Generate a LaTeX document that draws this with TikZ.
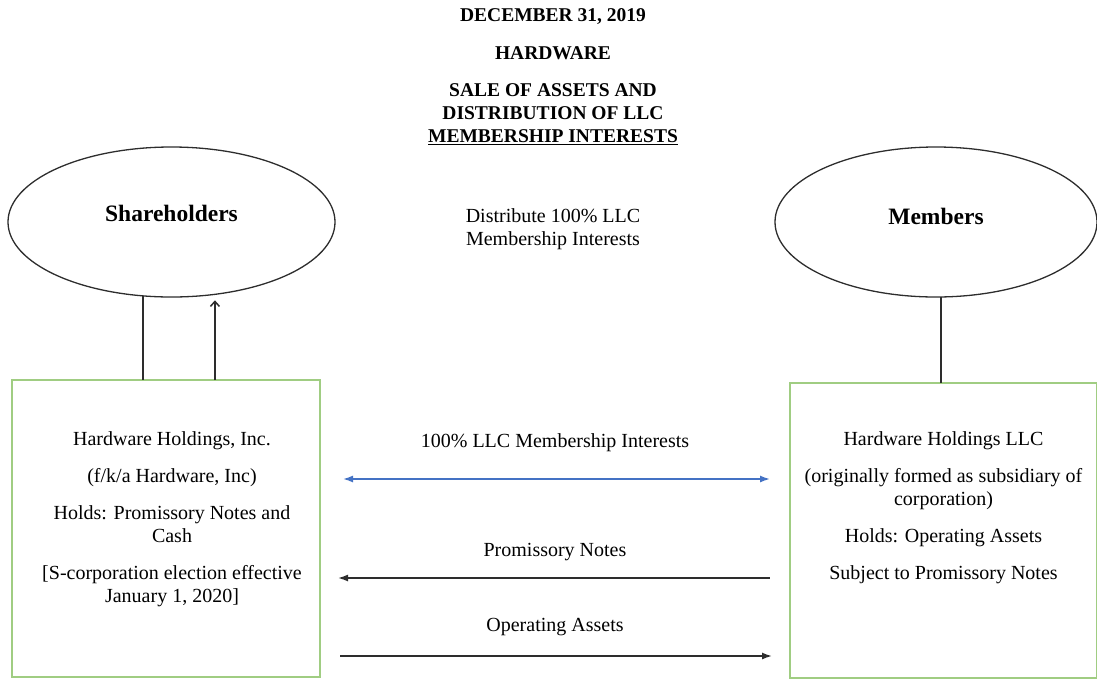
\documentclass[tikz,border=0pt]{standalone}
\usepackage{fontspec}
\setmainfont{Liberation Serif}
\usetikzlibrary{positioning,shapes.geometric,arrows.meta}
\definecolor{boxgreen}{RGB}{160,205,130}
\definecolor{linkblue}{RGB}{68,114,196}
\definecolor{inkgray}{RGB}{45,45,45}

\begin{document}
\begin{tikzpicture}
[
x=1pt, y=-1pt,
every node/.style={font=\fontsize{20}{23}\selectfont, inner sep=0, outer sep=0},
titletext/.style={font=\fontsize{19.5}{23}\selectfont\bfseries, align=center},
partynode/.style={ellipse, draw=inkgray, line width=1.3pt, minimum width=327pt, minimum height=150pt},
partyname/.style={font=\fontsize{23.5}{26}\selectfont\bfseries},
firmnode/.style={rectangle, draw=boxgreen, line width=1.4pt, minimum width=308pt, minimum height=297pt},
firmtext/.style={align=center},
link/.style={draw=inkgray, line width=1.5pt},
>={Latex[length=10pt,width=7pt]},
node distance=1cm
]
\useasboundingbox (0,0) rectangle (1097,681);

\node[titletext] (date) at (553,17)  {DECEMBER 31, 2019};
\node[titletext] (co)   at (553,53)  {HARDWARE};
\node[titletext] (deal) at (553,114) {SALE OF ASSETS AND\\DISTRIBUTION OF LLC\\\underline{MEMBERSHIP INTERESTS}};
\node[align=center] (dist) at (553,229) {Distribute 100\% LLC\\Membership Interests};

\node[partynode, label={[partyname, yshift=9pt]center:Shareholders}] (share) at (171.5,222) {};
\node[partynode, minimum width=322pt, label={[partyname, yshift=6pt]center:Members}] (memb) at (936,222) {};

\node[firmnode] (inc) at (166,528.5) {};
\node[firmnode, minimum width=307pt, minimum height=295pt] (llc) at (943.5,530.5) {};
\node[firmtext, below=52pt of inc.north, xshift=6pt] (inctext)
  {Hardware Holdings, Inc.\\[14pt](f/k/a Hardware, Inc)\\[14pt]Holds: Promissory Notes and\\Cash\\[14pt]{[}S-corporation election effective\\January 1, 2020{]}};
\node[firmtext, below=49pt of llc.north] (llctext)
  {Hardware Holdings LLC\\[14pt](originally formed as subsidiary of\\corporation)\\[14pt]Holds: Operating Assets\\[14pt]Subject to Promissory Notes};

\draw[link] (share.249.6) -- (share.249.6 |- inc.north);
\draw[link, -{Straight Barb[length=5pt,width=9pt]}, shorten >=6pt] (share.301 |- inc.north) -- (share.301);
\draw[link] (memb.274.3) -- (memb.274.3 |- llc.north);

\draw[link, draw=linkblue, <->, shorten <=23pt, shorten >=20pt] ([yshift=49.5pt]inc.east) -- node[above=27pt] (memlabel) {100\% LLC Membership Interests} ([yshift=51.5pt]llc.west);
\draw[link, <-, shorten <=18pt, shorten >=20pt] ([yshift=-49.5pt]inc.east) -- node[above=17pt] (notelabel) {Promissory Notes} ([yshift=-47.5pt]llc.west);
\draw[link, ->, shorten <=20pt, shorten >=18pt] ([yshift=-127.5pt]inc.east) -- node[above=20pt] (assetlabel) {Operating Assets} ([yshift=-125.5pt]llc.west);
\end{tikzpicture}
\end{document}
